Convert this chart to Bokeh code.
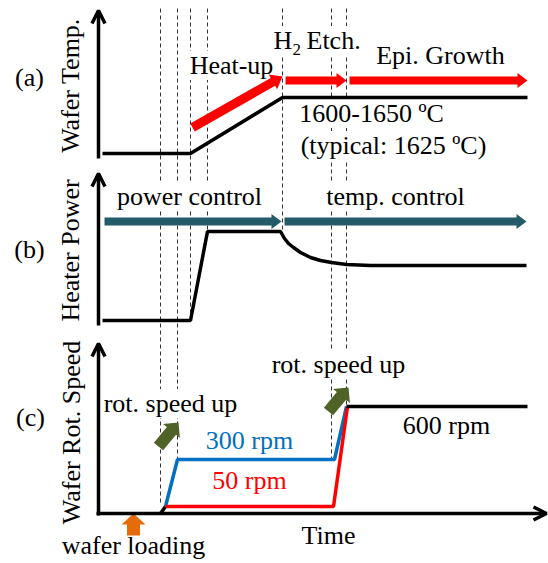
import numpy as np
from bokeh.plotting import figure
from bokeh.models import Range1d, Label, Arrow, OpenHead
from bokeh.embed import file_html
from bokeh.resources import INLINE

W, H = 548, 563
FONT = "Liberation Serif"

# ---- data (drawing frame: x = time, y = level within the stacked panels) ----
# phase boundary times and the extent of their dashed guide lines
event_times = [160, 177, 190, 207, 282, 331, 346]
event_top = [8, 8, 8, 8, 8, 8, 8]
event_bottom = [505, 459, 320, 231, 232, 458, 406]

# (a) wafer temperature
temp_t = [102, 190, 282, 527]
temp_y = [153, 153, 97, 97]

# (b) heater power
power_t = [102, 190, 207, 280, 284, 288, 293, 300, 310, 320, 331, 346, 370, 407, 526]
power_y = [320, 320, 231, 231, 238, 243, 247, 252, 257, 260, 262, 264, 265, 265, 265]

# (c) wafer rotation speed
rot_load_t = [160, 165]
rot_load_y = [513, 506]
rot_300_t = [165, 177, 334, 346]
rot_300_y = [506, 459, 459, 406]
rot_50_t = [165, 333, 347]
rot_50_y = [506, 506, 406]
rot_600_t = [346, 527]
rot_600_y = [406, 406]

# axes: (x0, y0, x1, y1)
axes_arrows = [(98, 158, 98, 10), (98, 325, 98, 173), (98, 515, 98, 343), (96, 513, 546, 513)]

# block arrows: (x0, y0, x1, y1, shaft, head, head_len, color)
RED, TEAL, GREEN, ORANGE, BLUE = "#FF0000", "#235B69", "#4F6228", "#E46C0A", "#0070C0"
block_arrows = [
    (192, 127, 282, 76, 9, 17, 11, RED),
    (285, 80, 346, 80, 8, 15, 10, RED),
    (349, 80, 527, 80, 8, 15, 10, RED),
    (104, 221, 281, 221, 8, 15, 10, TEAL),
    (284, 221, 526, 221, 8, 15, 10, TEAL),
    (158, 446, 178, 422, 12, 22, 11, GREEN),
    (328, 411, 348, 387, 12, 22, 11, GREEN),
    (133, 535, 133, 513, 13, 24, 11, ORANGE),
]

# text labels: (text, x, y, align, color, size, angle)
labels = [
    ("(a)", 29, 77, "center", "black", 26, 0),
    ("(b)", 29, 249, "center", "black", 26, 0),
    ("(c)", 30, 417, "center", "black", 26, 0),
    ("Wafer Temp.", 70, 85, "center", "black", 26, np.pi / 2),
    ("Heater Power", 70, 250, "center", "black", 26, np.pi / 2),
    ("Wafer Rot. Speed", 71, 432, "center", "black", 26, np.pi / 2),
    ("Heat-up", 231, 65, "center", "black", 26, 0),
    ("H", 273, 40, "left", "black", 26, 0),
    ("2", 292, 49, "left", "black", 17, 0),
    ("Etch.", 306, 40, "left", "black", 26, 0),
    ("Epi. Growth", 440, 55, "center", "black", 26, 0),
    ("1600-1650 ºC", 371, 113, "center", "black", 26, 0),
    ("(typical: 1625 ºC)", 393, 145, "center", "black", 26, 0),
    ("power control", 189, 196, "center", "black", 26, 0),
    ("temp. control", 395, 196, "center", "black", 26, 0),
    ("rot. speed up", 170, 403, "center", "black", 26, 0),
    ("rot. speed up", 338, 364, "center", "black", 26, 0),
    ("300 rpm", 249, 440, "center", BLUE, 26, 0),
    ("50 rpm", 249, 480, "center", RED, 26, 0),
    ("600 rpm", 446, 425, "center", "black", 26, 0),
    ("Time", 328, 535, "center", "black", 26, 0),
    ("wafer loading", 133, 545, "center", "black", 26, 0),
]


def block_arrow(x0, y0, x1, y1, shaft, head, head_len):
    p0 = np.array([x0, y0], float)
    p1 = np.array([x1, y1], float)
    d = p1 - p0
    u = d / np.hypot(*d)
    n = np.array([-u[1], u[0]])
    b = p1 - u * head_len
    pts = [p0 + n * shaft / 2, b + n * shaft / 2, b + n * head / 2, p1,
           b - n * head / 2, b - n * shaft / 2, p0 - n * shaft / 2]
    return [float(q[0]) for q in pts], [float(q[1]) for q in pts]


p = figure(width=W, height=H, x_range=Range1d(0, W), y_range=Range1d(H, 0),
           output_backend="svg", toolbar_location=None, min_border=0,
           x_axis_location=None, y_axis_location=None)
p.grid.visible = False
p.outline_line_color = None
p.background_fill_color = "white"
p.border_fill_color = "white"

# dashed phase boundaries (lowest layer)
for t, y0, y1 in zip(event_times, event_top, event_bottom):
    p.line([t, t], [y0, y1], line_color="#333333", line_width=1, line_dash="4 3",
           level="image")

# labels with white boxes interrupt dashed lines, drawn under curves/arrows
for txt, x, y, align, color, size, ang in labels:
    p.add_layout(Label(x=x, y=y, text=txt, text_align=align, text_baseline="alphabetic",
                       text_font=FONT, text_font_size=f"{size}px", text_color=color,
                       angle=ang, background_fill_color="white", level="underlay"))

# curves
p.line(temp_t, temp_y, line_color="black", line_width=3.5)
p.line(power_t, power_y, line_color="black", line_width=3.5)
p.line(rot_load_t, rot_load_y, line_color="black", line_width=3.5)
p.line(rot_300_t, rot_300_y, line_color=BLUE, line_width=3.5)
p.line(rot_50_t, rot_50_y, line_color=RED, line_width=3.5)
p.line(rot_600_t, rot_600_y, line_color="black", line_width=3.5)

# axes
for x0, y0, x1, y1 in axes_arrows:
    p.add_layout(Arrow(x_start=x0, y_start=y0, x_end=x1, y_end=y1, line_width=3.5,
                       line_color="black",
                       end=OpenHead(size=13, line_width=3.5, line_color="black")))

# block arrows
for x0, y0, x1, y1, sh, hd, hl, col in block_arrows:
    xs, ys = block_arrow(x0, y0, x1, y1, sh, hd, hl)
    p.patch(xs, ys, fill_color=col, line_color=None)

open("out.html", "w").write(file_html(p, INLINE))
